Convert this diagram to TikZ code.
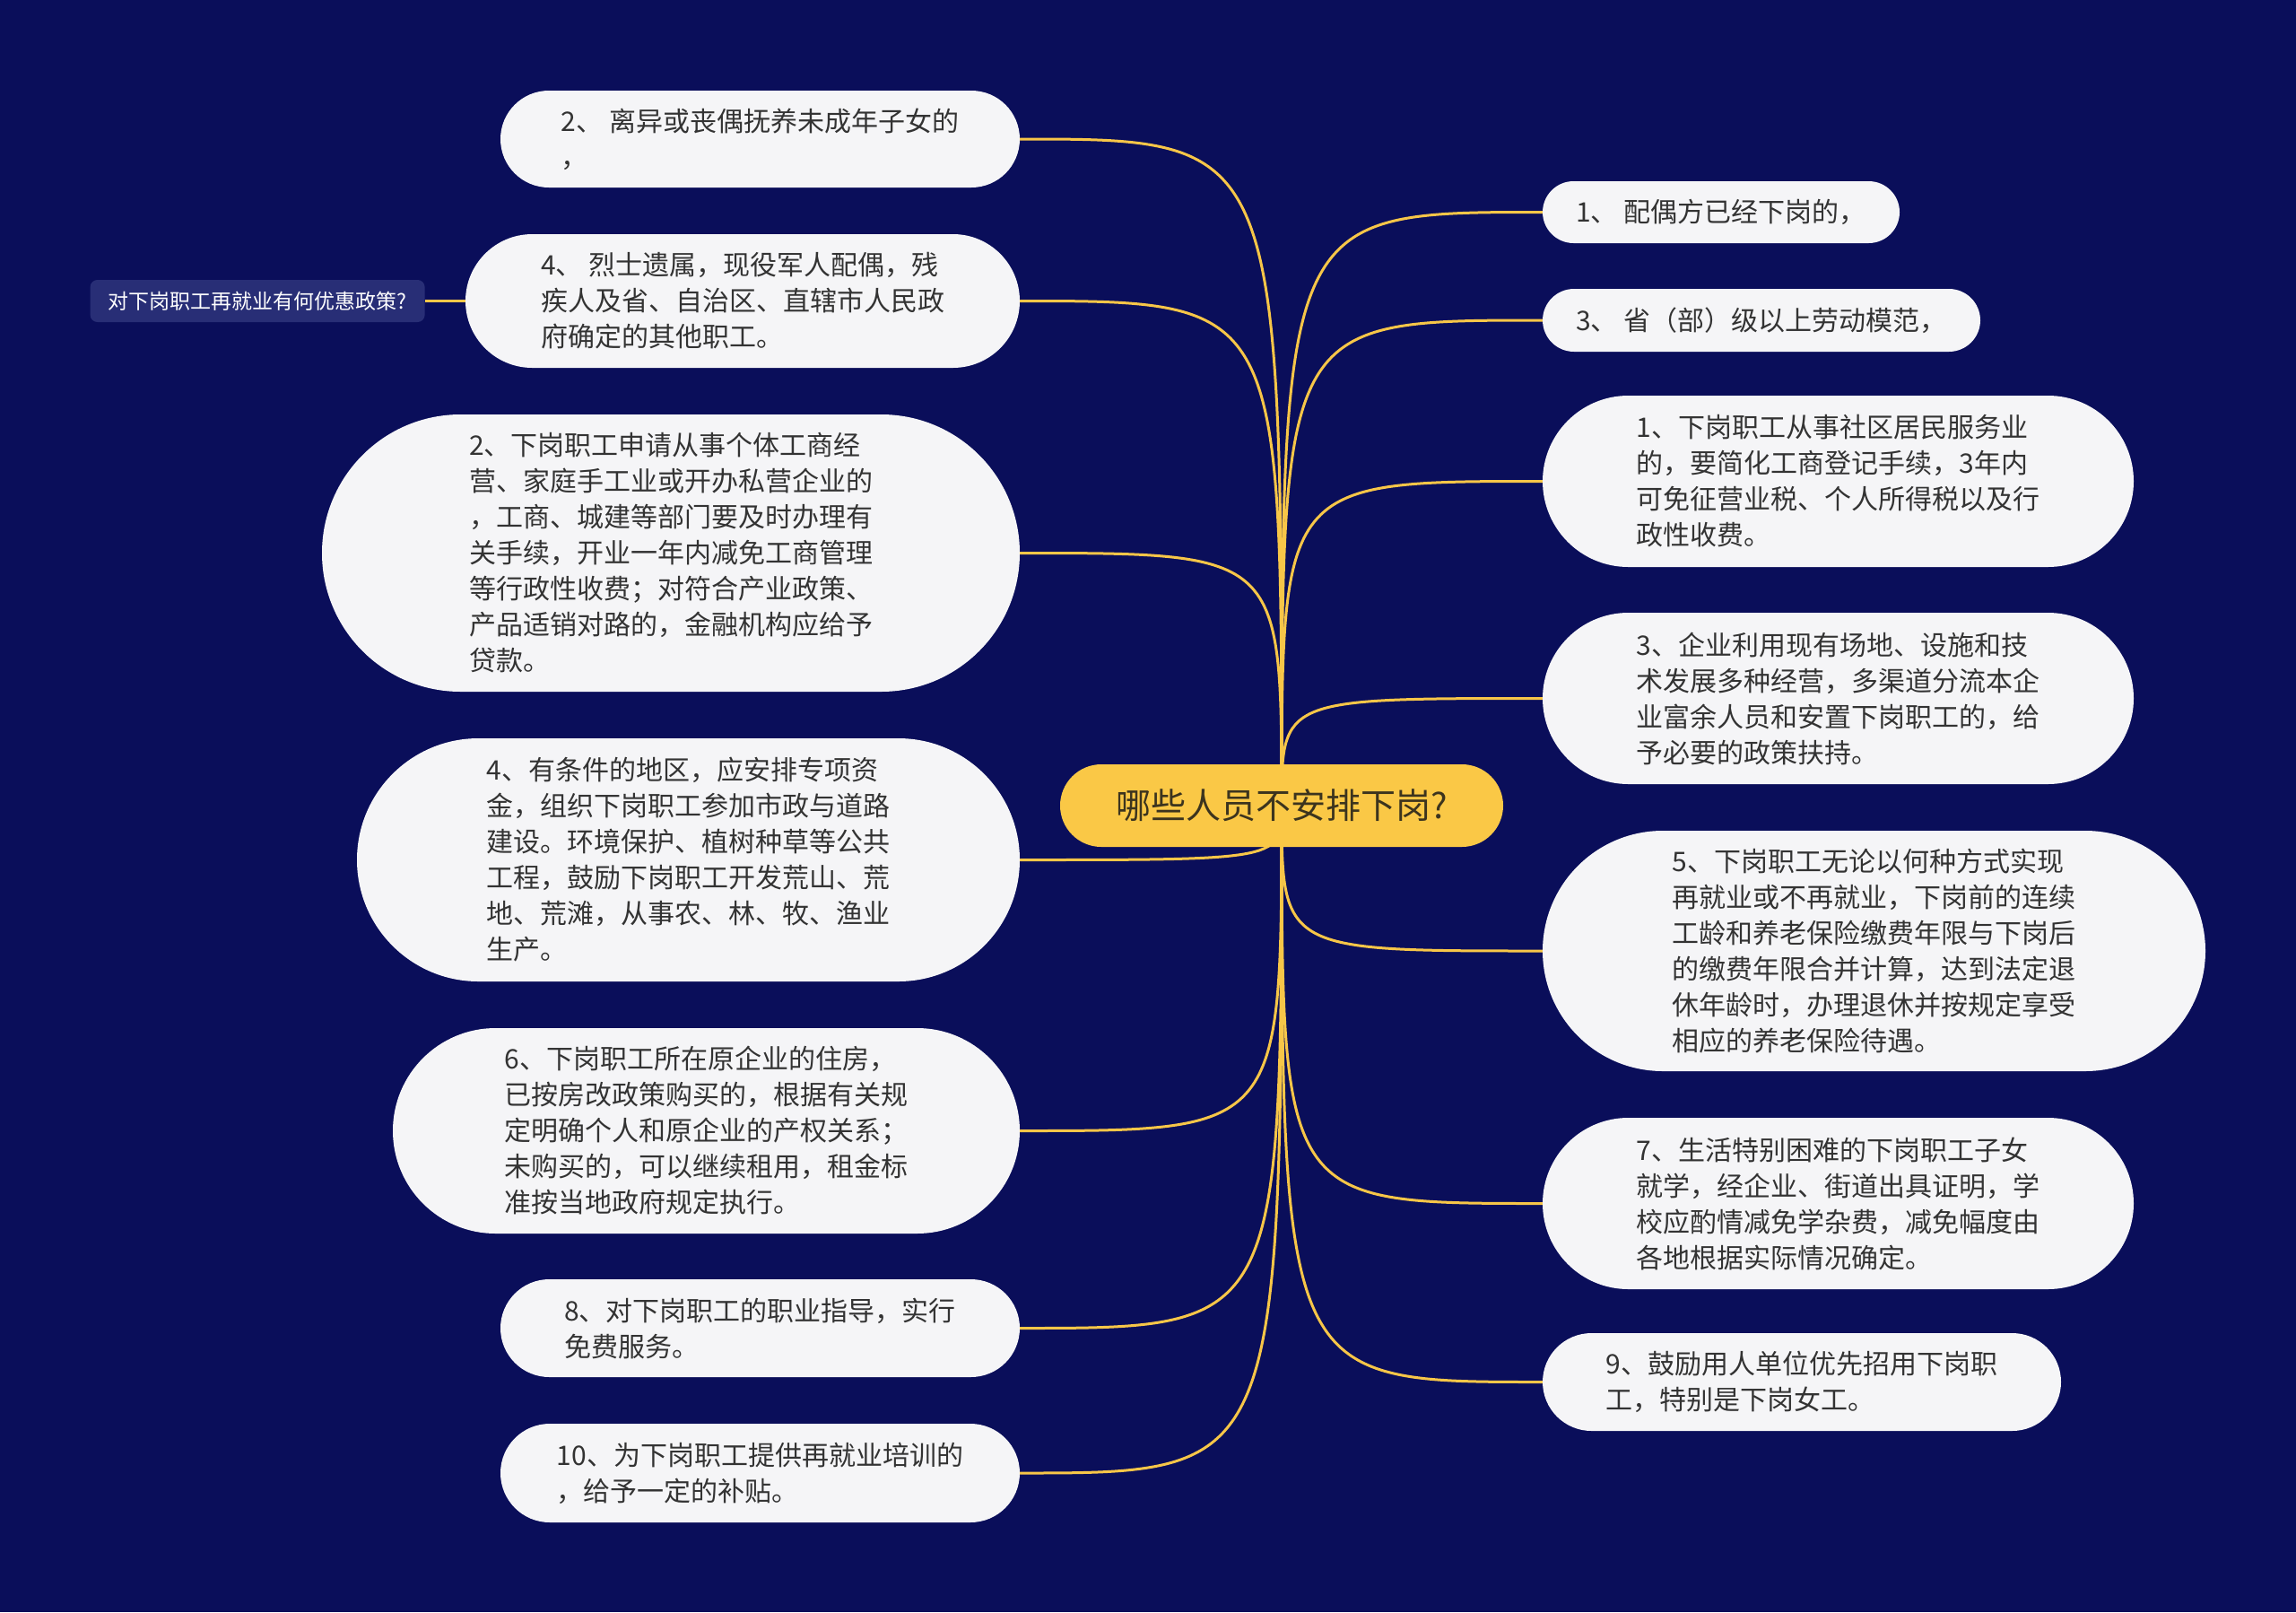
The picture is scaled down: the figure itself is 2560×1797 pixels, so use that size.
\documentclass[tikz,border=0pt]{standalone}
\usepackage{fontspec}
\setmainfont{Noto Sans CJK SC}
\usetikzlibrary{positioning, backgrounds}
\definecolor{bgnavy}{RGB}{10,14,90}
\definecolor{leafgray}{RGB}{245,245,247}
\definecolor{rootyellow}{RGB}{250,200,70}
\definecolor{branchyellow}{RGB}{247,198,72}
\definecolor{tagnavy}{RGB}{40,46,118}
\definecolor{inkgray}{RGB}{51,51,51}
\definecolor{rootink}{RGB}{60,52,30}

\begin{document}
\begin{tikzpicture}[
    x=1pt, y=-1pt,
    node distance=45pt,
    every node/.style={align=left, text=inkgray, font=\fontsize{30}{40}\selectfont},
    leaf/.style n args={2}{fill=leafgray, minimum width=#1, minimum height=#2, rounded corners=#2/2},
    branch/.style={draw=branchyellow, line width=3pt}
]
    \node[fill=rootyellow, text=rootink, minimum width=494, minimum height=92, rounded corners=46, font=\fontsize{39}{46}\selectfont] (root) at (1429,898) {哪些人员不安排下岗?};

    \node[leaf={579}{108}] (l1) at (847.5,155) {2、 离异或丧偶抚养未成年子女的\\，};
    \node[leaf={618}{149}] (l2) at (828,335.5) {4、 烈士遗属，现役军人配偶，残\\疾人及省、自治区、直辖市人民政\\府确定的其他职工。};
    \node[leaf={778}{309}] (l3) at (748,616.5) {2、下岗职工申请从事个体工商经\\营、家庭手工业或开办私营企业的\\，工商、城建等部门要及时办理有\\关手续，开业一年内减免工商管理\\等行政性收费；对符合产业政策、\\产品适销对路的，金融机构应给予\\贷款。};
    \node[leaf={739}{271}] (l4) at (767.5,958.5) {4、有条件的地区，应安排专项资\\金，组织下岗职工参加市政与道路\\建设。环境保护、植树种草等公共\\工程，鼓励下岗职工开发荒山、荒\\地、荒滩，从事农、林、牧、渔业\\生产。};
    \node[leaf={699}{229}] (l5) at (787.5,1260.5) {6、下岗职工所在原企业的住房，\\已按房改政策购买的，根据有关规\\定明确个人和原企业的产权关系；\\未购买的，可以继续租用，租金标\\准按当地政府规定执行。};
    \node[leaf={579}{109}] (l6) at (847.5,1480.5) {8、对下岗职工的职业指导，实行\\免费服务。};
    \node[leaf={579}{110}] (l7) at (847.5,1642) {10、为下岗职工提供再就业培训的\\，给予一定的补贴。};

    \node[leaf={398}{69}] (r1) at (1919,236.5) {1、 配偶方已经下岗的，};
    \node[leaf={488}{70}] (r2) at (1964,357) {3、 省（部）级以上劳动模范，};
    \node[leaf={659}{191}] (r3) at (2049.5,536.5) {1、下岗职工从事社区居民服务业\\的，要简化工商登记手续，3年内\\可免征营业税、个人所得税以及行\\政性收费。};
    \node[leaf={659}{191}] (r4) at (2049.5,778.5) {3、企业利用现有场地、设施和技\\术发展多种经营，多渠道分流本企\\业富余人员和安置下岗职工的，给\\予必要的政策扶持。};
    \node[leaf={739}{268}] (r5) at (2089.5,1060) {5、下岗职工无论以何种方式实现\\再就业或不再就业，下岗前的连续\\工龄和养老保险缴费年限与下岗后\\的缴费年限合并计算，达到法定退\\休年龄时，办理退休并按规定享受\\相应的养老保险待遇。};
    \node[leaf={659}{191}] (r6) at (2049.5,1341.5) {7、生活特别困难的下岗职工子女\\就学，经企业、街道出具证明，学\\校应酌情减免学杂费，减免幅度由\\各地根据实际情况确定。};
    \node[leaf={578}{109}] (r7) at (2009,1540.5) {9、鼓励用人单位优先招用下岗职\\工，特别是下岗女工。};

    \node[fill=tagnavy, text=white, minimum width=373, minimum height=47, rounded corners=8, font=\fontsize{23}{28}\selectfont, left=of l2] (tag) {对下岗职工再就业有何优惠政策?};

    \begin{pgfonlayer}{background}
        \fill[bgnavy] (0,0) rectangle (2560,1797);
        \foreach \n in {l1,l2,l3,l4,l5,l6,l7}
            \draw[branch] (root.center) .. controls (root.center |- \n.east) .. (\n.east);
        \foreach \n in {r1,r2,r3,r4,r5,r6,r7}
            \draw[branch] (root.center) .. controls (root.center |- \n.west) .. (\n.west);
        \draw[branch] (tag) -- (l2);
    \end{pgfonlayer}
\end{tikzpicture}
\end{document}
